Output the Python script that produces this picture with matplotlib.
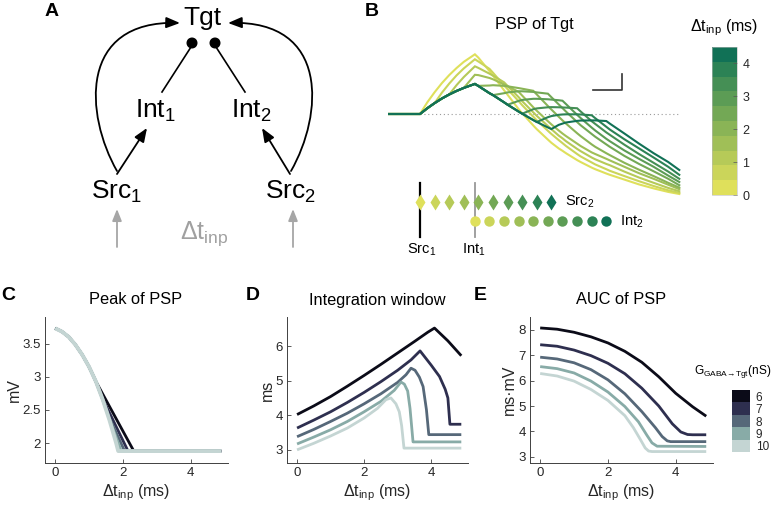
import matplotlib
matplotlib.use('Agg')
import matplotlib.pyplot as plt
import numpy as np
from matplotlib.patches import FancyArrowPatch, Circle
from matplotlib.path import Path
from matplotlib.colors import ListedColormap, BoundaryNorm
from matplotlib.cm import ScalarMappable

plt.rcParams['font.family'] = ['Liberation Sans', 'DejaVu Sans']
plt.rcParams['mathtext.fontset'] = 'custom'
plt.rcParams['mathtext.rm'] = 'Liberation Sans'
plt.rcParams['mathtext.it'] = 'Liberation Sans:italic'
plt.rcParams['mathtext.bf'] = 'Liberation Sans:bold'

# ---------------- data ----------------
# Panel B: PSP of Tgt (ms, mV), one trace per input delay
dt_inp = [0.0, 0.5, 1.0, 1.5, 2.0, 2.5, 3.0, 3.5, 4.0, 4.5]
int_delay = 1.88
psp_t = [-1.1, 0, 0.25, 0.5, 0.75, 1.0, 1.25, 1.5, 1.88, 2.0, 2.38, 2.5, 2.88, 3.0, 3.38, 3.5,
         3.88, 4.0, 4.38, 4.5, 4.75, 4.88, 5.0, 5.38, 5.5, 5.88, 6.0, 6.38, 6.5, 7.0, 7.5, 8.0, 8.5, 8.88]
psp_v0 = [0, 0, 0.73, 1.36, 1.93, 2.43, 2.87, 3.26, 3.73, 3.52, 2.68, 2.40, 1.48, 1.20, 0.30, 0.05,
          -0.72, -0.95, -1.60, -1.80, -2.15, -2.30, -2.45, -2.88, -3.00, -3.35, -3.45, -3.72, -3.80,
          -4.10, -4.40, -4.65, -4.87, -5.00]
psp_v1 = [0, 0, 0.36, 0.68, 1.33, 1.90, 2.41, 2.85, 3.42, 3.28, 2.82, 2.58, 1.78, 1.55, 0.80, 0.55,
          -0.17, -0.40, -1.05, -1.25, -1.63, -1.82, -2.00, -2.50, -2.65, -3.03, -3.15, -3.45, -3.55,
          -3.88, -4.20, -4.50, -4.77, -4.93]
psp_v2 = [0, 0, 0.36, 0.68, 0.97, 1.22, 1.80, 2.31, 2.98, 2.88, 2.52, 2.40, 1.98, 1.75, 1.05, 0.80,
          0.10, -0.12, -0.75, -0.95, -1.35, -1.52, -1.70, -2.18, -2.32, -2.72, -2.83, -3.12, -3.20,
          -3.60, -3.97, -4.30, -4.62, -4.83]
psp_v3 = [0, 0, 0.36, 0.68, 0.97, 1.22, 1.44, 1.63, 2.45, 2.43, 2.25, 2.17, 1.85, 1.74, 1.38, 1.15,
          0.42, 0.20, -0.45, -0.65, -1.03, -1.22, -1.38, -1.85, -2.00, -2.40, -2.50, -2.80, -2.90,
          -3.30, -3.70, -4.05, -4.42, -4.70]
psp_v4 = [0, 0, 0.36, 0.68, 0.97, 1.22, 1.44, 1.63, 1.88, 1.76, 1.78, 1.80, 1.76, 1.73, 1.62, 1.58,
          1.45, 1.22, 0.50, 0.28, -0.17, -0.40, -0.60, -1.20, -1.38, -1.90, -2.05, -2.45, -2.57,
          -3.05, -3.48, -3.88, -4.30, -4.60]
psp_v5 = [0, 0, 0.36, 0.68, 0.97, 1.22, 1.44, 1.63, 1.88, 1.75, 1.30, 1.18, 1.30, 1.35, 1.42, 1.42,
          1.38, 1.35, 1.27, 1.05, 0.60, 0.37, 0.15, -0.50, -0.70, -1.25, -1.42, -1.90, -2.05,
          -2.62, -3.12, -3.58, -4.05, -4.45]
psp_v6 = [0, 0, 0.36, 0.68, 0.97, 1.22, 1.44, 1.63, 1.88, 1.75, 1.30, 1.18, 0.73, 0.58, 0.82, 0.88,
          0.95, 0.95, 0.92, 0.90, 0.86, 0.83, 0.62, -0.05, -0.25, -0.85, -1.03, -1.55, -1.70,
          -2.28, -2.80, -3.30, -3.85, -4.25]
psp_v7 = [0, 0, 0.36, 0.68, 0.97, 1.22, 1.44, 1.63, 1.88, 1.75, 1.30, 1.18, 0.73, 0.58, 0.15, 0.02,
          0.30, 0.35, 0.42, 0.43, 0.42, 0.41, 0.40, 0.36, 0.16, -0.45, -0.62, -1.15, -1.30,
          -1.92, -2.50, -3.05, -3.60, -4.05]
psp_v8 = [0, 0, 0.36, 0.68, 0.97, 1.22, 1.44, 1.63, 1.88, 1.75, 1.30, 1.18, 0.73, 0.58, 0.15, 0.02,
          -0.38, -0.50, -0.20, -0.13, -0.05, -0.03, -0.02, -0.02, -0.03, -0.08, -0.26, -0.80, -0.97,
          -1.58, -2.15, -2.72, -3.30, -3.80]
psp_v9 = [0, 0, 0.36, 0.68, 0.97, 1.22, 1.44, 1.63, 1.88, 1.75, 1.30, 1.18, 0.73, 0.58, 0.15, 0.02,
          -0.38, -0.50, -0.84, -0.94, -0.68, -0.60, -0.53, -0.43, -0.41, -0.40, -0.40, -0.44, -0.60,
          -1.22, -1.85, -2.45, -3.00, -3.50]
psp_traces = [psp_v0, psp_v1, psp_v2, psp_v3, psp_v4, psp_v5, psp_v6, psp_v7, psp_v8, psp_v9]

# Panels C-E, per inhibitory conductance
g_levels = [6, 7, 8, 9, 10]
# C: peak of PSP (mV)
peak_x6 = [0, 0.2, 0.4, 0.6, 0.8, 1.0, 1.2, 2.32, 4.9]
peak_y6 = [3.73, 3.68, 3.60, 3.48, 3.33, 3.15, 2.93, 1.88, 1.88]
peak_x7 = [0, 0.2, 0.4, 0.6, 0.8, 1.0, 1.2, 1.4, 2.15, 4.9]
peak_y7 = [3.73, 3.68, 3.60, 3.48, 3.33, 3.15, 2.93, 2.67, 1.88, 1.88]
peak_x8 = [0, 0.2, 0.4, 0.6, 0.8, 1.0, 1.2, 1.4, 1.6, 2.05, 4.9]
peak_y8 = [3.73, 3.68, 3.60, 3.48, 3.33, 3.15, 2.93, 2.66, 2.38, 1.88, 1.88]
peak_x9 = [0, 0.2, 0.4, 0.6, 0.8, 1.0, 1.2, 1.4, 1.6, 1.95, 4.9]
peak_y9 = [3.73, 3.68, 3.60, 3.48, 3.33, 3.15, 2.93, 2.66, 2.36, 1.88, 1.88]
peak_x10 = [0, 0.2, 0.4, 0.6, 0.8, 1.0, 1.2, 1.4, 1.6, 1.8, 1.86, 4.9]
peak_y10 = [3.73, 3.68, 3.60, 3.48, 3.33, 3.15, 2.93, 2.66, 2.35, 2.00, 1.88, 1.88]
# D: integration window (ms)
win_x6 = [0, 0.5, 1, 1.5, 2, 2.5, 3, 3.5, 3.9, 4.1, 4.5, 4.9]
win_y6 = [4.02, 4.27, 4.54, 4.84, 5.15, 5.47, 5.80, 6.13, 6.40, 6.52, 6.15, 5.72]
win_x7 = [0, 0.5, 1, 1.5, 2, 2.5, 3, 3.4, 3.67, 4.0, 4.25, 4.42, 4.5, 4.56, 4.9]
win_y7 = [3.63, 3.86, 4.10, 4.37, 4.66, 4.97, 5.30, 5.60, 5.86, 5.45, 5.12, 4.75, 4.50, 3.74, 3.74]
win_x8 = [0, 0.5, 1, 1.5, 2, 2.5, 3, 3.25, 3.4, 3.52, 3.65, 3.76, 3.86, 3.93, 4.9]
win_y8 = [3.38, 3.59, 3.82, 4.06, 4.33, 4.62, 4.95, 5.17, 5.36, 5.30, 5.10, 4.83, 4.16, 3.44, 3.44]
win_x9 = [0, 0.5, 1, 1.5, 2, 2.5, 2.9, 3.1, 3.2, 3.3, 3.37, 3.46, 4.9]
win_y9 = [3.17, 3.37, 3.58, 3.82, 4.10, 4.40, 4.72, 4.96, 4.90, 4.70, 4.20, 3.23, 3.23]
win_x10 = [0, 0.5, 1, 1.5, 2, 2.4, 2.65, 2.8, 2.95, 3.05, 3.12, 3.19, 4.9]
win_y10 = [3.00, 3.19, 3.40, 3.63, 3.92, 4.20, 4.45, 4.50, 4.33, 4.10, 3.70, 3.05, 3.05]
# E: AUC of PSP (ms*mV)
auc_x6 = [0, 0.5, 1, 1.5, 2, 2.5, 3, 3.5, 4, 4.5, 4.9]
auc_y6 = [8.07, 8.02, 7.90, 7.72, 7.48, 7.15, 6.72, 6.15, 5.50, 4.97, 4.60]
auc_x7 = [0, 0.5, 1, 1.5, 2, 2.5, 3, 3.5, 3.9, 4.15, 4.35, 4.5, 4.9]
auc_y7 = [7.41, 7.35, 7.20, 6.98, 6.68, 6.27, 5.70, 5.00, 4.30, 3.98, 3.88, 3.87, 3.87]
auc_x8 = [0, 0.5, 1, 1.5, 2, 2.5, 3, 3.4, 3.6, 3.75, 3.85, 4.9]
auc_y8 = [6.92, 6.85, 6.70, 6.43, 6.03, 5.48, 4.78, 4.15, 3.80, 3.63, 3.60, 3.60]
auc_x9 = [0, 0.5, 1, 1.5, 2, 2.5, 2.9, 3.15, 3.3, 3.45, 4.9]
auc_y9 = [6.55, 6.47, 6.30, 5.98, 5.55, 4.98, 4.38, 3.85, 3.55, 3.42, 3.41]
auc_x10 = [0, 0.5, 1, 1.5, 2, 2.5, 2.75, 2.95, 3.1, 3.2, 3.3, 4.9]
auc_y10 = [6.28, 6.18, 5.98, 5.65, 5.22, 4.62, 4.15, 3.70, 3.35, 3.23, 3.21, 3.21]

peak_xs = [peak_x6, peak_x7, peak_x8, peak_x9, peak_x10]
peak_ys = [peak_y6, peak_y7, peak_y8, peak_y9, peak_y10]
win_xs = [win_x6, win_x7, win_x8, win_x9, win_x10]
win_ys = [win_y6, win_y7, win_y8, win_y9, win_y10]
auc_xs = [auc_x6, auc_x7, auc_x8, auc_x9, auc_x10]
auc_ys = [auc_y6, auc_y7, auc_y8, auc_y9, auc_y10]

# ---------------- style ----------------
green_cols = ['#dfe05b', '#cbd55a', '#b6ca58', '#a0bf57', '#8ab456', '#73a855',
              '#5c9c55', '#458f55', '#2c8255', '#117156']
gaba_cols = ['#0b0b18', '#2e2f4f', '#566879', '#88aba7', '#c4d5d3']
axis_col = '#404040'

W, H = 777, 511
fig = plt.figure(figsize=(W / 100, H / 100), dpi=100)


def ax_px(x0, y0, x1, y1):
    return fig.add_axes([x0 / W, 1 - y1 / H, (x1 - x0) / W, (y1 - y0) / H])


def ftext(x, y, s, **kw):
    fig.text(x / W, 1 - y / H, s, **kw)


# ---------------- Panel A: circuit diagram ----------------
axA = ax_px(0, 0, 380, 280)
axA.set_xlim(0, 380)
axA.set_ylim(280, 0)
axA.axis('off')
node_fs = 19
axA.text(202, 25, 'Tgt', ha='center', va='baseline', fontsize=node_fs)
axA.text(155, 118, 'Int$_1$', ha='center', va='baseline', fontsize=node_fs)
axA.text(251, 118, 'Int$_2$', ha='center', va='baseline', fontsize=node_fs)
axA.text(117, 199, 'Src$_1$', ha='center', va='baseline', fontsize=node_fs)
axA.text(291, 199, 'Src$_2$', ha='center', va='baseline', fontsize=node_fs)
axA.text(204, 239, r'$\Delta$t$_{\rm inp}$', ha='center', va='baseline', fontsize=18, color='#a0a0a0')

blk = dict(arrowstyle='-|>,head_length=0.55,head_width=0.22', mutation_scale=15,
           lw=1.3, color='k', shrinkA=0, shrinkB=0)
axA.add_patch(FancyArrowPatch((117, 174), (147, 128), **blk))
axA.add_patch(FancyArrowPatch((290, 174), (262, 128), **blk))
for verts in ([(117, 171), (85, 115), (78, 20), (180, 23)],
              [(291, 171), (323, 115), (330, 20), (228, 23)]):
    p = Path(verts, [Path.MOVETO, Path.CURVE4, Path.CURVE4, Path.CURVE4])
    axA.add_patch(FancyArrowPatch(path=p, **blk))
gry = dict(arrowstyle='-|>,head_length=0.5,head_width=0.2', mutation_scale=14,
           lw=1.3, color='#a6a6a6', shrinkA=0, shrinkB=0)
axA.add_patch(FancyArrowPatch((117, 247), (117, 209), **gry))
axA.add_patch(FancyArrowPatch((293, 247), (293, 209), **gry))
axA.plot([162, 191], [92, 47], color='k', lw=1.2)
axA.plot([245, 216], [92, 47], color='k', lw=1.2)
axA.add_patch(Circle((192, 43), 4.8, color='k'))
axA.add_patch(Circle((215, 43), 4.8, color='k'))

# ---------------- Panel B: PSP traces ----------------
px_per_ms, px_per_mv, x_src, y_base = 29.2, 16.0, 420, 114
axB = ax_px(388, 40, 700, 260)
axB.set_xlim((388 - x_src) / px_per_ms, (700 - x_src) / px_per_ms)
axB.set_ylim((y_base - 260) / px_per_mv, (y_base - 40) / px_per_mv)
axB.axis('off')
axB.plot([0, 8.9], [0, 0], ls=(0, (1, 2.5)), color='#9a9a9a', lw=0.8)
for k, v in enumerate(psp_traces):
    axB.plot(psp_t, v, color=green_cols[k], lw=1.5, solid_joinstyle='miter')
# scale bar (1 ms, 1 mV)
axB.plot([5.92, 6.92, 6.92], [1.5, 1.5, 2.5], color='#333333', lw=1.2)
# input timing markers
axB.plot([0, 0], [-4.3, -7.7], color='k', lw=1.6)
axB.plot([int_delay, int_delay], [-4.3, -7.7], color='#999999', lw=1.3)
for k, d in enumerate(dt_inp):
    axB.plot(d, -5.5, marker='d', ms=8.5, color=green_cols[k], mec='none', zorder=5)
    axB.plot(d + int_delay, -6.7, marker='o', ms=7.5, color=green_cols[k], mec='none', zorder=5)
axB.text(0.05, -8.5, 'Src$_1$', ha='center', va='center', fontsize=10.5)
axB.text(1.85, -8.5, 'Int$_1$', ha='center', va='center', fontsize=10.5)
axB.text(4.97, -5.5, 'Src$_2$', ha='left', va='center', fontsize=10.5)
axB.text(6.85, -6.75, 'Int$_2$', ha='left', va='center', fontsize=10.5)
ftext(534, 25, 'PSP of Tgt', ha='center', va='center', fontsize=11.8)

caxB = ax_px(712, 47, 737, 195)
cmapB = ListedColormap(green_cols)
normB = BoundaryNorm(np.linspace(0, 4.5, 11), 10)
cbB = fig.colorbar(ScalarMappable(norm=normB, cmap=cmapB), cax=caxB, ticks=[0, 1, 2, 3, 4])
cbB.minorticks_off()
cbB.outline.set_linewidth(0.4)
cbB.outline.set_edgecolor('#bbbbbb')
caxB.tick_params(direction='in', length=3, width=0.5, color='#555555', labelsize=9,
                 labelcolor='#262626', pad=4)
ftext(724, 28, r'$\Delta$t$_{\rm inp}$ (ms)', ha='center', va='center', fontsize=11.5)

# ---------------- Panels C-E ----------------
def style_ax(ax, xlim, ylim, yticks, ylabel, ylab_x):
    ax.set_xlim(*xlim)
    ax.set_ylim(*ylim)
    ax.set_xticks([0, 2, 4])
    ax.set_yticks(yticks)
    ax.set_yticklabels([('%g' % t) for t in yticks])
    for s in ['top', 'right']:
        ax.spines[s].set_visible(False)
    for s in ['left', 'bottom']:
        ax.spines[s].set_color(axis_col)
        ax.spines[s].set_linewidth(0.7)
    ax.tick_params(direction='in', length=3, width=0.6, color=axis_col, labelsize=9.5,
                   labelcolor='#262626', pad=3)
    ax.set_xlabel(r'$\Delta$t$_{\rm inp}$ (ms)', fontsize=11.5, color='#262626')
    ax.xaxis.set_label_coords(0.5, -0.13)
    ax.set_ylabel(ylabel, fontsize=11.5, color='#262626', va='center')
    ax.yaxis.set_label_coords(ylab_x, 0.5)


axC = ax_px(45, 317, 228, 463)
for i in range(5):
    axC.plot(peak_xs[i], peak_ys[i], color=gaba_cols[i], lw=2.0 if i < 4 else 2.8,
             solid_capstyle='butt')
style_ax(axC, (-0.3, 5.1), (1.7, 3.9), [2, 2.5, 3, 3.5], 'mV', -0.165)

axD = ax_px(287, 317, 468, 463)
for i in range(5):
    axD.plot(win_xs[i], win_ys[i], color=gaba_cols[i], lw=2.0, solid_capstyle='butt')
style_ax(axD, (-0.3, 5.1), (2.62, 6.84), [3, 4, 5, 6], 'ms', -0.11)

axE = ax_px(530, 317, 713, 463)
for i in range(5):
    axE.plot(auc_xs[i], auc_ys[i], color=gaba_cols[i], lw=2.0, solid_capstyle='butt')
style_ax(axE, (-0.3, 5.1), (2.76, 8.5), [3, 4, 5, 6, 7, 8], 'ms\u00b7mV', -0.11)

ftext(136, 300, 'Peak of PSP', ha='center', va='center', fontsize=11.8)
ftext(377, 300, 'Integration window', ha='center', va='center', fontsize=11.8)
ftext(621, 300, 'AUC of PSP', ha='center', va='center', fontsize=11.8)

# G legend colorbar
caxG = ax_px(732, 390, 750, 452)
cmapG = ListedColormap(gaba_cols[::-1])
cbG = fig.colorbar(ScalarMappable(norm=BoundaryNorm([0, 1, 2, 3, 4, 5], 5), cmap=cmapG), cax=caxG,
                   ticks=[0.5, 1.5, 2.5, 3.5, 4.5])
cbG.set_ticklabels([str(g) for g in g_levels[::-1]])
cbG.minorticks_off()
cbG.outline.set_visible(False)
caxG.tick_params(which='both', length=0, labelsize=8.5, labelcolor='#262626', pad=4)
ftext(694, 371, r'G$_{\rm GABA\!\rightarrow\! Tgt}$(nS)', ha='left', va='center', fontsize=8.6)

# panel letters
for lab, (x, y) in zip('ABCDE', [(52, 12), (372, 12), (8, 295), (253, 295), (480, 295)]):
    ftext(x, y, lab, ha='center', va='center', fontsize=14, fontweight='bold')

fig.savefig('out.png', dpi=100)
